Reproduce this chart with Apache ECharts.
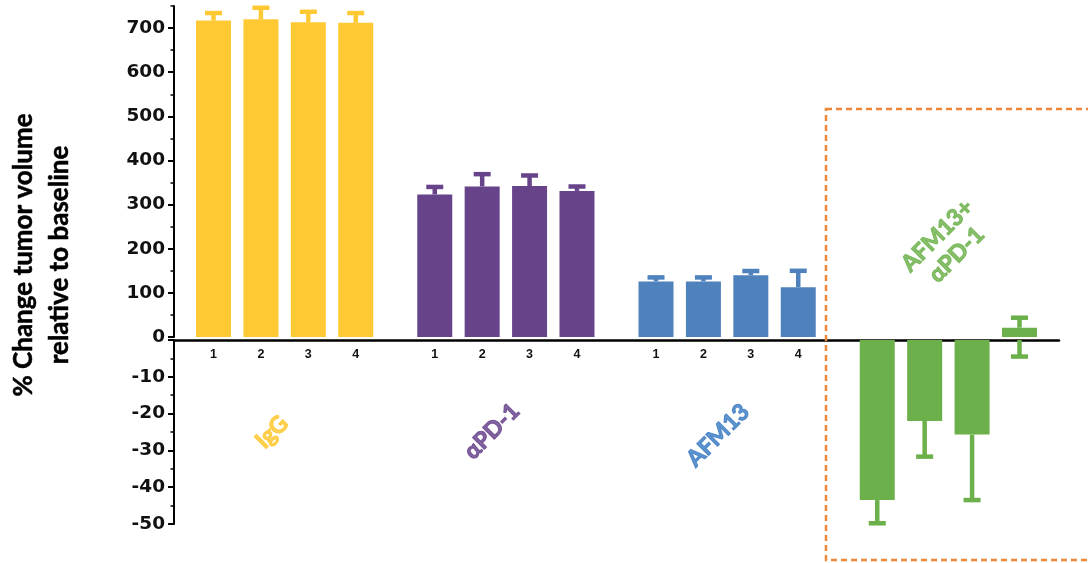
<!DOCTYPE html>
<html>
<head>
<meta charset="utf-8">
<script src="https://cdn.jsdelivr.net/npm/echarts@6/dist/echarts.min.js"></script>
<style>
  html, body { margin: 0; padding: 0; background: #fff; }
  #chart { width: 1088px; height: 563px; }
</style>
</head>
<body>
<div id="chart"></div>
<script>
// ---------- data ----------
const groups = ['IgG', 'αPD-1', 'AFM13', 'AFM13+\nαPD-1'];
const barLabels = ['1', '2', '3', '4'];
const iggMean = [717, 720, 713, 712];
const iggSem = [17, 26, 24, 22];
const pd1Mean = [323, 341, 342, 331];
const pd1Sem = [17, 28, 24, 10];
const afmMean = [126, 126, 140, 113];
const afmSem = [9, 9, 9.5, 37];
const comboMean = [-43.5, -22, -25.7, 21];
const comboSem = [6.3, 9.7, 17.8, 22.7];
const comboLowerWhisker = [null, null, null, -4.5];
const upperTicks = [0, 100, 200, 300, 400, 500, 600, 700];
const lowerTicks = [-50, -40, -30, -20, -10, 0];

// ---------- layout / style ----------
const GROUP_STRIDE = 14 / 3;          // bar slots per group incl. gap
const colors = ['#FFC934', '#674489', '#4F81BD', '#6BB04A'];
const labelColors = ['#FFC52A', '#643F8A', '#3A7BC2', '#6BB04A'];
const groupLabelAt = [[1.23, -25], [5.87, -24.8], [10.64, -25.9], [15.47, 208]];
const groupLabelGrid = [1, 1, 1, 0];

const means = [iggMean, pd1Mean, afmMean, comboMean];
const sems = [iggSem, pd1Sem, afmSem, comboSem];
const xPos = (g, i) => g * GROUP_STRIDE + i;

const upBars = [], downBars = [], upErr = [], downErr = [];
means.forEach((arr, g) => {
  arr.forEach((v, i) => {
    const x = xPos(g, i);
    const item = { value: [x, v], itemStyle: { color: colors[g] } };
    const end = v >= 0 ? v + sems[g][i] : v - sems[g][i];
    if (v >= 0) { upBars.push(item); upErr.push([x, v, end, g]); }
    else { downBars.push(item); downErr.push([x, v, end, g]); }
  });
});
comboLowerWhisker.forEach((w, i) => {
  if (w !== null) downErr.push([xPos(3, i), 0, w, 3]);
});

const labelPositions = [];
for (let g = 0; g < 3; g++) for (let i = 0; i < 4; i++) labelPositions.push(xPos(g, i));

function errRender(params, api) {
  const x = api.value(0), from = api.value(1), to = api.value(2);
  const c = colors[api.value(3)];
  const p0 = api.coord([x, from]);
  const p1 = api.coord([x, to]);
  const half = 8.5;
  return {
    type: 'group',
    children: [
      { type: 'line', shape: { x1: p0[0], y1: p0[1], x2: p1[0], y2: p1[1] },
        style: { stroke: c, lineWidth: 4.5 } },
      { type: 'line', shape: { x1: p1[0] - half, y1: p1[1], x2: p1[0] + half, y2: p1[1] },
        style: { stroke: c, lineWidth: 4.5 } }
    ]
  };
}

const labelSeries = [0, 1].map(gi => ({
  type: 'scatter',
  xAxisIndex: gi, yAxisIndex: gi === 0 ? 0 : 2,
  symbolSize: 0,
  silent: true,
  z: 10,
  data: groups.map((name, g) => ({ name, g, value: groupLabelAt[g] }))
              .filter(d => groupLabelGrid[d.g] === gi)
              .map(d => ({
                name: d.name, value: d.value,
                label: { color: labelColors[d.g], textBorderColor: labelColors[d.g] }
              })),
  label: {
    show: true, position: 'inside', rotate: 45,
    formatter: p => p.name,
    fontFamily: 'Lato', fontWeight: 'bold', fontSize: 23,
    textBorderWidth: 1.1,
    align: 'center', verticalAlign: 'middle', lineHeight: 27
  }
}));

const tickFont = { fontFamily: 'DejaVu Sans', fontWeight: 'bold', fontSize: 18.5, color: '#111' };

const option = {
  animation: false,
  backgroundColor: '#fff',
  grid: [
    { left: 174, top: 6, width: 885, height: 331 },
    { left: 174, top: 340, width: 885, height: 184 }
  ],
  xAxis: [
    { type: 'value', gridIndex: 0, min: -5 / 6, max: 18 - 1 / 6, position: 'bottom',
      splitLine: { show: false },
      axisLine: { show: false, onZero: false },
      axisTick: { show: false },
      axisLabel: {
        customValues: labelPositions, margin: 11,
        fontFamily: 'Liberation Sans', fontWeight: 'bold', fontSize: 12.5, color: '#111',
        formatter: v => {
          const k = labelPositions.findIndex(p => Math.abs(p - v) < 1e-6);
          return k >= 0 ? barLabels[k % 4] : '';
        }
      }
    },
    { type: 'value', gridIndex: 1, min: -5 / 6, max: 18 - 1 / 6, position: 'top',
      splitLine: { show: false },
      axisLine: { show: true, onZero: false, lineStyle: { color: '#000', width: 2.5 } },
      axisTick: { show: false },
      axisLabel: { show: false }
    }
  ],
  yAxis: [
    { type: 'value', gridIndex: 0, min: 0, max: 750, interval: 50, position: 'left',
      splitLine: { show: false },
      axisLine: { show: true, onZero: false, lineStyle: { color: '#000', width: 2 } },
      axisTick: { show: true, length: 3.5, lineStyle: { color: '#000', width: 1.5 } },
      axisLabel: Object.assign({ margin: 9,
        formatter: v => (upperTicks.includes(v) ? String(v) : '') }, tickFont)
    },
    { type: 'value', gridIndex: 0, min: 0, max: 750, position: 'left',
      splitLine: { show: false },
      axisLine: { show: false, onZero: false },
      axisTick: { show: true, customValues: upperTicks, length: 6, lineStyle: { color: '#000', width: 2 } },
      axisLabel: { show: false }
    },
    { type: 'value', gridIndex: 1, min: -50, max: 0, interval: 10, position: 'left',
      splitLine: { show: false },
      axisLine: { show: true, onZero: false, lineStyle: { color: '#000', width: 2 } },
      axisTick: { show: true, length: 6, lineStyle: { color: '#000', width: 2 } },
      minorTick: { show: true, splitNumber: 2, length: 3.5, lineStyle: { color: '#000', width: 1.5 } },
      axisLabel: Object.assign({ margin: 9,
        formatter: v => (v !== 0 && lowerTicks.includes(v) ? String(v) : '') }, tickFont)
    }
  ],
  series: [
    { type: 'bar', xAxisIndex: 0, yAxisIndex: 0, barWidth: 35, data: upBars, silent: true },
    { type: 'bar', xAxisIndex: 1, yAxisIndex: 2, barWidth: 35, data: downBars, silent: true },
    { type: 'custom', xAxisIndex: 0, yAxisIndex: 0, renderItem: errRender, data: upErr, clip: false, z: 3, silent: true },
    { type: 'custom', xAxisIndex: 1, yAxisIndex: 2, renderItem: errRender, data: downErr, clip: false, z: 3, silent: true }
  ].concat(labelSeries),
  graphic: [
    { type: 'text', x: 42, y: 255, rotation: Math.PI / 2, silent: true,
      style: { text: '% Change tumor volume\nrelative to baseline',
               font: 'bold 26px Lato', fill: '#000', stroke: '#000', lineWidth: 0.5,
               align: 'center', verticalAlign: 'middle', lineHeight: 36 } },
    { type: 'rect', silent: true, z: 100,
      shape: { x: 826, y: 109, width: 300, height: 451 },
      style: { fill: 'none', stroke: '#F0883A', lineWidth: 2.5, lineDash: [6, 4] } }
  ]
};

const chart = echarts.init(document.getElementById('chart'), null, { renderer: 'canvas' });
chart.setOption(option);
</script>
</body>
</html>
